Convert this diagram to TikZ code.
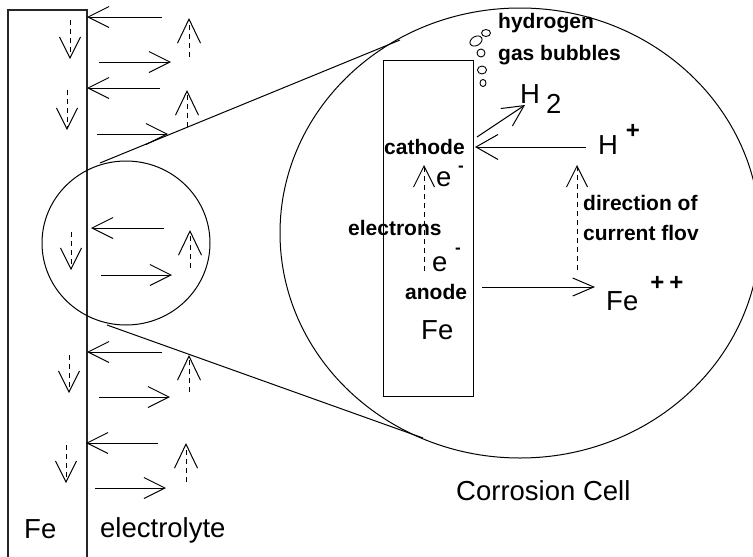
\documentclass[tikz,border=0pt]{standalone}
\usepackage{fontspec}
\setmainfont{Liberation Sans}
\usetikzlibrary{arrows.meta}
\begin{document}
\begin{tikzpicture}[x=1pt,y=-1pt,
  ln/.style={line width=1pt},
  arr/.style={ln,-{Straight Barb[length=21pt,width=21pt]}},
  uparr/.style={ln,-{Straight Barb[length=24pt,width=23pt]},dash pattern=on 5pt off 4pt},
  darr/.style={arr,dash pattern=on 5pt off 4pt},
  bigtxt/.style={font=\fontsize{27.5}{30}\selectfont,inner sep=0pt,anchor=base west},
  smalltxt/.style={font=\bfseries\fontsize{21}{24}\selectfont,inner sep=0pt,anchor=base west},
  suptxt/.style={font=\bfseries\fontsize{24}{26}\selectfont,inner sep=0pt}]
\useasboundingbox (0,0) rectangle (753,557);
\fill[white] (0,0) rectangle (753,557);

% iron strip
\draw[line width=1.3pt,black!85] (8,557) -- (8,10) -- (87,10) -- (87,557);

% electrolyte arrows (into metal)
\foreach \y/\xt/\xh in {17/162/87, 88/160/87, 228/164/91, 352/162/87, 443/158/86}
  \draw[arr] (\xt,\y) -- (\xh,\y);
% arrows away from metal
\foreach \y/\xt/\xh in {62/99/171, 134/97/168, 275/101/172, 397/99/170, 488/95/166}
  \draw[arr] (\xt,\y) -- (\xh,\y);
% dashed down arrows in metal
\foreach \x/\ya/\yb in {70/20/59, 67/90/130, 71/232/270, 69/355/393, 66/445/483}
  \draw[darr] (\x,\ya) -- (\x,\yb);
% dashed up arrows in electrolyte
\foreach \x/\ya/\yb in {189/57/18, 187/127/90, 190/268/230, 189/392/355, 186/482/443}
  \draw[uparr] (\x,\ya) -- (\x,\yb);

% magnifier
\draw[ln] (126,243) ellipse [x radius=84pt, y radius=82pt];
\draw[ln] (520,233) ellipse [x radius=240pt, y radius=225pt];
\coordinate (t1) at (100,163);
\coordinate (t2) at (400,40);
\coordinate (b1) at (107,325);
\coordinate (b2) at (423,438);
\draw[ln] (t1) -- (t2);
\draw[ln] (b1) -- (b2);

% corrosion cell electrode
\draw[ln] (383,60) rectangle (473,396);

% bubbles
\draw[line width=0.9pt] (476,41) ellipse [x radius=6.5pt, y radius=4.5pt, rotate=30];
\draw[line width=0.9pt] (486,33) ellipse [x radius=4.5pt, y radius=3.5pt];
\draw[line width=0.9pt] (481,53) ellipse [x radius=4pt, y radius=4pt];
\draw[line width=0.9pt] (482,70) ellipse [x radius=4.5pt, y radius=4pt];
\draw[line width=0.9pt] (483,83) ellipse [x radius=3pt, y radius=3.5pt];

% labels
\node[bigtxt] (feL) at (24,538) {Fe};
\node[bigtxt] (elec) at (100,537) {electrolyte};
\node[bigtxt] (cc) at (456,500) {Corrosion Cell};

\node[smalltxt] (hyd) at (498,28) {hydrogen};
\node[smalltxt] (gas) at (498,60) {gas bubbles};
\node[smalltxt] (cath) at (384,154) {cathode};
\node[smalltxt] (eltr) at (348,235) {electrons};
\node[smalltxt] (anod) at (405,299) {anode};
\node[smalltxt] (dir) at (583,210) {direction of};
\node[smalltxt] (cur) at (583,240) {current flov};

\node[bigtxt] (h2H) at (520,103) {H};
\node[bigtxt] (h2n) at (546,113) {2};
\node[bigtxt] (hpH) at (598,154) {H};
\node[suptxt] (hpP) at (633,131) {+};
\node[bigtxt] (e1) at (436,186) {e};
\node[suptxt,font=\bfseries\fontsize{17}{18}\selectfont] (e1m) at (461,169) {-};
\node[bigtxt] (e2) at (432,271) {e};
\node[suptxt,font=\bfseries\fontsize{17}{18}\selectfont] (e2m) at (458,251) {-};
\node[bigtxt] (feI) at (421,339) {Fe};
\node[bigtxt] (fepp) at (606,310) {Fe};
\node[suptxt] (fepP) at (667,283) {+\kern5pt+};

% cell arrows
\coordinate (eBot) at (424,271);
\coordinate (eTop) at (424,165);
\coordinate (cBot) at (577,270);
\coordinate (cTop) at (577,165);
\coordinate (hTail) at (586,147);
\coordinate (cathPt) at (475,147);
\coordinate (hgTail) at (477,137);
\coordinate (hgTip) at (525,105);
\coordinate (anTail) at (482,287);
\coordinate (feTip) at (595,287);
\draw[darr] (eBot) -- (eTop);
\draw[darr] (cBot) -- (cTop);
\draw[arr,-{Straight Barb[length=22pt,width=25pt]}] (hTail) -- (cathPt);
\draw[arr] (hgTail) -- (hgTip);
\draw[arr,-{Straight Barb[length=21pt,width=18pt]}] (anTail) -- (feTip);
\end{tikzpicture}
\end{document}
